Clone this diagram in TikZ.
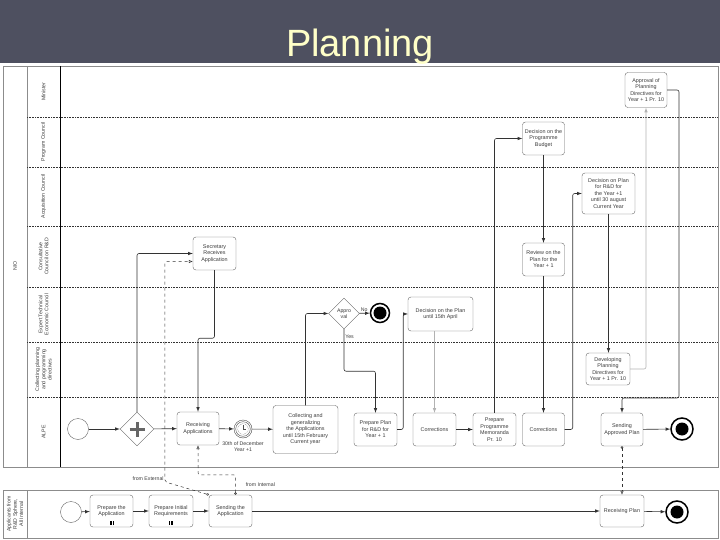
\documentclass[tikz,border=0pt]{standalone}
\usepackage{fontspec}
\setmainfont{Liberation Sans}
\usetikzlibrary{shapes.geometric,arrows.meta}
\definecolor{titlebg}{RGB}{78,80,96}
\definecolor{titlefg}{RGB}{255,255,200}
\definecolor{ink}{RGB}{60,60,60}
\begin{document}
\begin{tikzpicture}[x=1pt,y=-1pt,>=latex,
  task/.style={draw=black!60,rounded corners=3pt,fill=white,align=center,text=ink,
    font=\fontsize{5.4}{6.5}\selectfont,inner sep=1pt,minimum width=43pt,minimum height=33pt},
  lanelbl/.style={rotate=90,align=center,text=ink,font=\fontsize{5.2}{6.2}\selectfont},
  lbl/.style={text=ink,font=\fontsize{5.2}{6.2}\selectfont,inner sep=1pt},
  pool/.style={draw=black!45,line width=0.8pt},
  lane/.style={draw=black!80,densely dotted,line width=0.6pt},
  flow/.style={->,draw=black!80,line width=0.6pt,rounded corners=2pt},
  faint/.style={flow,draw=black!30},
  msg/.style={draw=black!80,dashed,line width=0.5pt,rounded corners=2pt,
    {Circle[open,length=2.5pt]}-{Latex[open,length=4pt,width=3.5pt]}},
  startev/.style={circle,draw=black!60,minimum size=21pt,inner sep=0},
  endev/.style={circle,draw=black,line width=1.5pt,minimum size=22pt,inner sep=0,
    path picture={\fill (path picture bounding box.center) circle (6.5pt);}},
  gate/.style={diamond,aspect=1,draw=black!60,fill=white,minimum size=31pt,inner sep=0,
    align=center,text=ink,font=\fontsize{5.2}{6.2}\selectfont},
  plusgate/.style={gate,minimum size=34pt,
    path picture={\draw[line width=3pt] ([xshift=-7.5pt]path picture bounding box.center) -- ([xshift=7.5pt]path picture bounding box.center)
      ([yshift=-7.5pt]path picture bounding box.center) -- ([yshift=7.5pt]path picture bounding box.center);}},
  timer/.style={circle,draw=black!70,fill=white,minimum size=18pt,inner sep=0,
    path picture={\draw[black!70] (path picture bounding box.center) circle (7.3pt);
      \draw[black!70,densely dotted] (path picture bounding box.center) circle (5.5pt);
      \draw[black!70,line width=0.5pt] ([yshift=4pt]path picture bounding box.center) -- (path picture bounding box.center) -- ([xshift=3pt]path picture bounding box.center);}}]
  \useasboundingbox (0,0) rectangle (720,540);
  %title
  \fill[titlebg] (0,0) rectangle (720,63);
  \node[text=titlefg,font=\fontsize{38}{38}\selectfont,anchor=base] (title) at (360,57) {Planning};
  %pools
  \draw[pool] (3,66) rectangle (718,467);
  \draw[pool] (27,66) -- (27,467);
  \draw[black,line width=0.8pt] (60,66) -- (60,467);
  \foreach \y in {117,167,226,287,342,397}
    \draw[lane] (27,\y) -- (718,\y);
  \draw[pool] (3,490) rectangle (718,538);
  \draw[pool] (27,490) -- (27,538);
  %lane labels
  \node[lanelbl] (pnio) at (15,266) {NIO};
  \node[lanelbl] (lmin) at (43.5,91.5) {Minister};
  \node[lanelbl] (lprog) at (43.5,142) {Program Council};
  \node[lanelbl] (lacq) at (43.5,196.5) {Acquisition Council};
  \node[lanelbl] (lcons) at (43.5,256.5) {Consultative\\Council on R\&D};
  \node[lanelbl] (lexp) at (43.5,314.5) {Expert Technical\\Economic Council};
  \node[lanelbl] (lcoll) at (43.5,369.5) {Collecting planning\\and programming\\directives};
  \node[lanelbl] (lalpe) at (43.5,432) {ALPE};
  \node[lanelbl] (papp) at (15,514) {Applicants from\\R\&D Sphere,\\All Internal};
  %tasks
  \node[task,minimum width=42pt,minimum height=35pt] (apprdir) at (646,90) {Approval of\\Planning\\Directives for\\Year + 1 Pr. 10};
  \node[task,minimum width=42pt] (budget) at (543.5,138.5) {Decision on the\\Programme\\Budget};
  \node[task,minimum width=53pt,minimum height=41pt] (decrd) at (608.5,193.5) {Decision on Plan\\for R\&D for\\the Year +1\\until 30 august\\Current Year};
  \node[task] (secr) at (214.5,253.5) {Secretary\\Receives\\Application};
  \node[task,minimum width=42pt] (review) at (543.5,259.5) {Review on the\\Plan for the\\Year + 1};
  \node[task,minimum width=65pt,minimum height=34pt] (decapr) at (440.5,314) {Decision on the Plan\\until 15th April};
  \node[task,minimum width=44pt,minimum height=32pt] (develop) at (608,369) {Developing\\Planning\\Directives for\\Year + 1 Pr. 10};
  \node[task,minimum width=42pt] (recv) at (198,428.5) {Receiving\\Applications};
  \node[task,minimum width=65pt,minimum height=48pt] (collect) at (305.5,429.5) {Collecting and\\generalizing\\the Applications\\until 15th February\\Current year};
  \node[task] (prepplan) at (375.5,429.5) {Prepare Plan\\for R\&D for\\Year + 1};
  \node[task] (corr1) at (434.5,429.5) {Corrections};
  \node[task] (memo) at (494.5,429.5) {Prepare\\Programme\\Memoranda\\Pr. 10};
  \node[task,minimum width=42pt] (corr2) at (543.5,429.5) {Corrections};
  \node[task,minimum width=42pt] (sendplan) at (622,429.5) {Sending\\Approved Plan};
  \node[task,minimum height=32pt] (prepapp) at (111.5,511) {Prepare the\\Application};
  \node[task,minimum width=44pt,minimum height=32pt] (prepreq) at (171,511) {Prepare Initial\\Requirements};
  \node[task,minimum height=32pt] (sendapp) at (230.5,511) {Sending the\\Application};
  \node[task,minimum width=44pt,minimum height=32pt] (recvplan) at (622,511) {Receiving Plan};
  \foreach \n in {prepapp,prepreq}
    \foreach \d in {-1.5,0,1.5}
      \draw[line width=0.4pt] ([xshift=\d pt,yshift=2pt]\n.south) -- ([xshift=\d pt,yshift=6pt]\n.south);
  %events and gateways
  \node[startev] (starta) at (78,429) {};
  \node[plusgate] (gatea) at (137,429) {};
  \node[timer] (timer) at (243,429) {};
  \node[lbl,align=center,below=2pt] (timerlbl) at (timer.south) {30th of December\\Year +1};
  \node[gate] (appr) at (344,313.5) {Appro\\val};
  \node[endev,minimum size=19pt] (endno) at (380,313) {};
  \node[endev] (enda) at (682,429) {};
  \node[startev] (startb) at (71,512) {};
  \node[endev] (endb) at (677,512) {};
  %sequence flows
  \draw[flow] (starta) -- (gatea);
  \draw[flow] (gatea) -- (recv);
  \draw[flow] (gatea.north) |- (secr);
  \draw[flow] (secr.south) -- ++(0,68) -| (recv.north);
  \draw[flow] (recv) -- (timer);
  \draw[flow] (timer) -- (collect);
  \draw[flow] (collect.north) |- (appr);
  \draw[flow] (appr) -- node[above,pos=0.45,lbl] {No} (endno);
  \draw[flow] (appr.south) -- ++(0,42) node[pos=0.18,right,lbl] {Yes} -| (prepplan.north);
  \draw[flow] (prepplan.east) -- ++(6,0) |- (decapr);
  \draw[faint] (decapr.south -| corr1.north) -- (corr1.north);
  \draw[flow] (corr1) -- (memo);
  \draw[flow] (memo.north) |- (budget);
  \draw[flow] (budget) -- (review);
  \draw[flow] (review) -- (corr2);
  \draw[flow] (corr2.east) -- ++(8,0) |- (decrd);
  \draw[flow] (decrd.south) -- (decrd.south |- develop.north);
  \draw[faint] (develop.east) -| (apprdir.south);
  \coordinate (toplan) at (679,398);
  \draw[flow] (apprdir.east) -| (toplan) -| (sendplan.north);
  \draw[flow] (sendplan) -- (enda);
  \draw[flow] (startb) -- (prepapp);
  \draw[flow] (prepapp) -- (prepreq);
  \draw[flow] (prepreq) -- (sendapp);
  \draw[flow] (sendapp) -- (recvplan);
  \draw[flow] (recvplan) -- (endb);
  %message flows
  \draw[msg] (sendplan) -- (recvplan);
  \draw[msg] ([xshift=5pt]sendapp.north) -- ++(0,-20) node[midway,right=9pt,lbl] {from Internal} -| (recv.south);
  \draw[msg] (sendapp.north west) -- ++(-44,-13) node[left,yshift=3pt,lbl] {from External} |- ([yshift=-8pt]secr.west);
\end{tikzpicture}
\end{document}
